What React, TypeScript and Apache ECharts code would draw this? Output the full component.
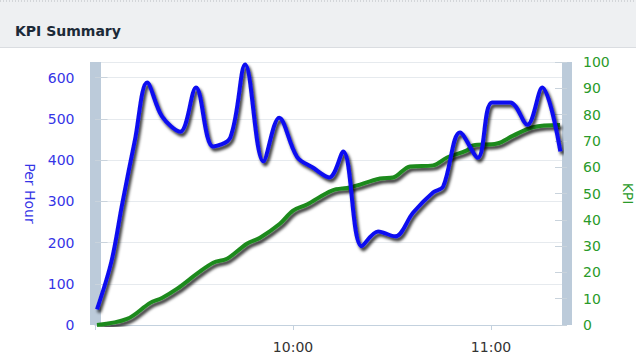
import React, { useEffect, useRef } from "react";
import * as echarts from "echarts";

// minutes after 9:00
const rateTimes = [0.6, 5, 8.2, 12.1, 15.8, 20.3, 25.8, 30.6, 35.8, 41, 45.5, 51, 55.8, 61.2, 66, 71, 75.2, 80.8, 85.8, 90.9, 96.4, 102.5, 105.5, 110.6, 116, 120.3, 125.8, 131, 135.5, 141];
const rateValues = [38, 155, 292, 449, 588, 506, 469, 576, 433, 455, 632, 397, 503, 408, 382, 358, 421, 191, 227, 215, 273, 322, 336, 467, 406, 540, 540, 486, 576, 421];

const kpiTimes = [0.6, 9.7, 16.7, 20.3, 24.8, 30.9, 35.8, 40, 46, 50, 56, 60, 64.2, 71.8, 77.3, 86.4, 90.3, 95.5, 102.4, 106.7, 112.7, 114.5, 121.8, 126.7, 132.7, 140.9];
const kpiValues = [0, 2.3, 8.4, 10.3, 13.7, 19.5, 23.7, 25.2, 30.9, 33.2, 38.5, 43.5, 45.8, 51.1, 52.3, 55.7, 56.1, 60.3, 60.7, 63.7, 66.4, 68.3, 69, 72, 75.2, 76];

const xTickMinutes = [60, 120];
const xTickLabels = ["10:00", "11:00"];

const BLUE = "#1010f0";
const GREEN = "#1d8a1d";
const FONT = "DejaVu Sans";

export default function App() {
  const ref = useRef<HTMLDivElement>(null);
  useEffect(() => {
    if (!ref.current) return;
    const chart = echarts.init(ref.current, null, { renderer: "svg" });
    const shadow = {
      shadowColor: "rgba(0,0,0,0.8)",
      shadowBlur: 3,
      shadowOffsetX: 2,
      shadowOffsetY: 3,
    };
    chart.setOption({
      animation: false,
      backgroundColor: "#ffffff",
      graphic: [
        {
          type: "rect",
          shape: { x: 0, y: 0, width: 636, height: 47 },
          style: { fill: "#eef0f2" },
          z: 0,
        },
        {
          type: "line",
          shape: { x1: 0, y1: 1, x2: 636, y2: 1 },
          style: { stroke: "#b8bcc0", lineWidth: 1, lineDash: [1, 2] },
        },
        {
          type: "line",
          shape: { x1: 0, y1: 47.5, x2: 636, y2: 47.5 },
          style: { stroke: "#dadde1", lineWidth: 1 },
        },
        {
          type: "text",
          x: 15,
          y: 31,
          style: {
            text: "KPI Summary",
            fill: "#1c2a38",
            font: `bold 14px '${FONT}'`,
            verticalAlign: "middle",
          },
        },
      ],
      grid: {
        left: 95,
        right: 74,
        top: 62,
        bottom: 32,
        containLabel: false,
        outerBoundsMode: "none",
      },
      xAxis: {
        type: "value",
        min: 0,
        max: 141.5,
        interval: 60,
        axisLine: { lineStyle: { color: "#c3d1de", width: 1 } },
        axisTick: { length: 5, lineStyle: { color: "#c3d1de" } },
        splitLine: { show: false },
        axisLabel: {
          color: "#333333",
          fontFamily: FONT,
          fontSize: 14,
          margin: 15,
          showMaxLabel: false,
          formatter: (v: number) => {
            const i = xTickMinutes.indexOf(v);
            return i >= 0 ? xTickLabels[i] : "";
          },
        },
      },
      yAxis: [
        {
          type: "value",
          min: 0,
          max: 638,
          interval: 100,
          position: "left",
          offset: 5.5,
          name: "Per Hour",
          nameLocation: "middle",
          nameRotate: -90,
          nameGap: 52,
          nameTextStyle: { color: "#3535e6", fontFamily: FONT, fontSize: 14 },
          axisLine: { show: true, lineStyle: { color: "#bccbda", width: 11, cap: "butt" } },
          axisTick: { show: true, inside: true, length: 12.5, lineStyle: { color: "#c9d3dc" } },
          splitLine: { show: true, lineStyle: { color: "#e6eaee" } },
          axisLabel: {
            color: "#3535e6",
            fontFamily: FONT,
            fontSize: 14,
            margin: 15,
            showMaxLabel: false,
          },
        },
        {
          type: "value",
          min: 0,
          max: 100,
          interval: 10,
          position: "right",
          offset: 5,
          name: "KPI",
          nameLocation: "middle",
          nameRotate: -90,
          nameGap: 52,
          nameTextStyle: { color: "#2a9a2a", fontFamily: FONT, fontSize: 14 },
          axisLine: { show: true, lineStyle: { color: "#bccbda", width: 10, cap: "butt" } },
          axisTick: { show: true, inside: true, length: 12, lineStyle: { color: "#c9d3dc" } },
          splitLine: { show: false },
          axisLabel: {
            color: "#2a9a2a",
            fontFamily: FONT,
            fontSize: 14,
            margin: 16,
          },
        },
      ],
      series: [
        {
          type: "line",
          yAxisIndex: 1,
          smooth: 0.35,
          symbol: "none",
          data: kpiTimes.map((t, i) => [t, kpiValues[i]]),
          lineStyle: { color: GREEN, width: 4, ...shadow },
          z: 2,
        },
        {
          type: "line",
          yAxisIndex: 0,
          smooth: 0.35,
          symbol: "none",
          data: rateTimes.map((t, i) => [t, rateValues[i]]),
          lineStyle: { color: BLUE, width: 4, ...shadow },
          z: 3,
        },
      ],
    });
    return () => chart.dispose();
  }, []);
  return (
    <div
      ref={ref}
      style={{ position: "absolute", left: 0, top: 0, width: 636, height: 357 }}
    />
  );
}
